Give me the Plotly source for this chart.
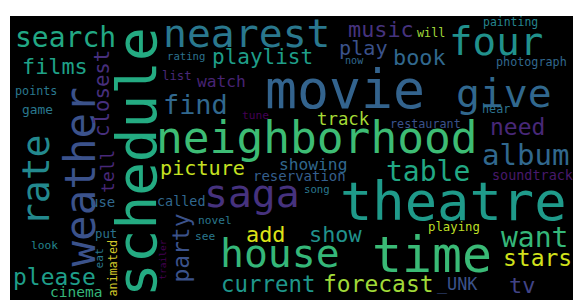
import plotly.graph_objects as go

# ---- data: words and their relative frequencies (largest word = 1.0) ----
words = ["schedule", "movie", "theatre", "neighborhood", "time", "weather", "nearest",
         "give", "house", "saga", "four", "rate", "album", "table", "want", "find",
         "search", "forecast", "please", "stars", "current", "party", "need", "add",
         "show", "films", "tv", "book", "music", "playlist", "closest", "picture",
         "play", "tell", "track", "_UNK", "showing", "watch", "reservation", "use",
         "cinema", "soundtrack", "called", "game", "list", "playing", "put", "will",
         "restaurant", "photograph", "hear", "points", "animated", "painting", "look",
         "eat", "novel", "see", "tune", "song", "rating", "now", "trailer"]
frequencies = [1.00, 0.95, 0.96, 0.795, 0.89, 0.76, 0.71,
               0.71, 0.71, 0.71, 0.70, 0.68, 0.52, 0.50, 0.50, 0.48,
               0.50, 0.41, 0.41, 0.41, 0.40, 0.41, 0.41, 0.39,
               0.39, 0.39, 0.39, 0.39, 0.39, 0.375, 0.37, 0.36,
               0.36, 0.32, 0.31, 0.30, 0.29, 0.29, 0.25, 0.25,
               0.26, 0.24, 0.24, 0.23, 0.22, 0.22, 0.22, 0.21,
               0.21, 0.21, 0.21, 0.21, 0.21, 0.205, 0.20,
               0.20, 0.20, 0.20, 0.20, 0.19, 0.19, 0.18, 0.17]

# ---- layout of the cloud (pixel positions of word centres, orientation, colour) ----
pos_x = [136, 344.5, 453.5, 316.5, 431.5, 79.5, 246.5,
         503.5, 280, 251.5, 496, 35.7, 526, 427.5, 534, 195,
         65, 378, 54, 537.5, 267.5, 180.6, 517, 265,
         335, 55, 521.5, 419, 381, 262, 101.5, 202.5,
         363.5, 107.4, 343.5, 457, 312.5, 221, 299, 102.5,
         76, 532.5, 181, 37.5, 177, 454, 106, 431,
         425, 531, 495.5, 36, 112, 510, 44.5,
         99, 215, 205, 255, 317, 186, 354, 161.7]
pos_y = [162, 89.5, 201, 137, 254.5, 177, 33,
         93, 253, 193, 41.4, 180.5, 155, 171, 237, 104,
         37, 284, 277, 258, 284, 248, 127, 234,
         234, 66, 285, 57, 29, 56.6, 93.5, 168,
         48, 171.5, 119, 284, 164.8, 81.4, 176, 202,
         291, 175, 201, 109.5, 76, 226.7, 234, 33,
         124, 62, 109, 91, 268.5, 22, 245,
         258.5, 220, 236, 115, 189, 56, 60.5, 260]
vertical = {"schedule", "weather", "rate", "closest", "tell", "party", "eat",
            "animated", "trailer"}
colors = ["#24ab82", "#33638d", "#1f9a8a", "#3dbc74", "#3aba76", "#3b528b", "#2a788e",
          "#31688e", "#35b779", "#46327e", "#21918c", "#23898e", "#31688e", "#22a884",
          "#35b779", "#31688e", "#22a884", "#a0da39", "#1f9e89", "#d0e11c", "#1f978b",
          "#3b528b", "#482878", "#dde318", "#21918c", "#1fa187", "#414487", "#31688e",
          "#46337e", "#1f9e89", "#472f7d", "#c5e021", "#3b528b", "#482878", "#a5db36",
          "#3b528b", "#31688e", "#482475", "#355f8d", "#31688e", "#35b779", "#481a6c",
          "#31688e", "#2a788e", "#482878", "#bddf26", "#2c728e", "#a0da39", "#3b528b",
          "#31688e", "#2c728e", "#2a788e", "#d2c82a", "#25858e", "#24868e", "#2a788e",
          "#2a788e", "#2a788e", "#440154", "#2a788e", "#2c728e", "#31688e", "#440154"]

MAX_FONT = 56
# page body has an 8px margin, so the figure starts at (8, 8)
BODY = 8
X0, X1, Y0, Y1 = 10, 578, 16, 300   # black canvas in page pixels
W, H = 573, 297

fig = go.Figure()
fig.add_trace(go.Scatter(x=[X0, X1], y=[Y0, Y1], mode="markers",
                         marker=dict(opacity=0), hoverinfo="skip", showlegend=False))

for w, f, x, y, c in zip(words, frequencies, pos_x, pos_y, colors):
    fig.add_annotation(
        x=x, y=y, xref="x", yref="y", text=w, showarrow=False,
        xanchor="center", yanchor="middle",
        textangle=-90 if w in vertical else 0,
        font=dict(family="DejaVu Sans Mono", size=f * MAX_FONT, color=c),
    )

fig.update_layout(
    width=W, height=H,
    margin=dict(l=X0 - BODY, r=W - (X1 - BODY), t=Y0 - BODY, b=H - (Y1 - BODY)),
    paper_bgcolor="white", plot_bgcolor="black",
    showlegend=False,
    xaxis=dict(range=[X0, X1], visible=False, fixedrange=True),
    yaxis=dict(range=[Y1, Y0], visible=False, fixedrange=True),
)
fig.write_html("out.html")
